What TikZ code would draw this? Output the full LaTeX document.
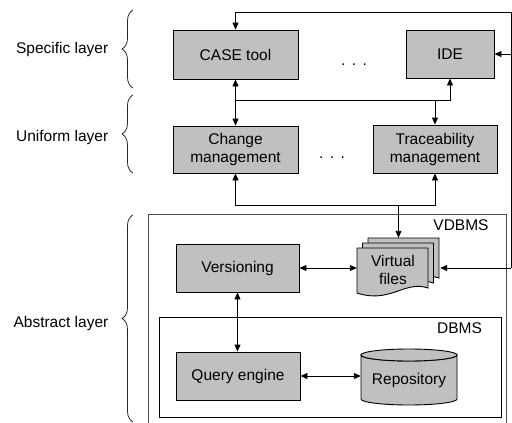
\documentclass[tikz,border=0pt]{standalone}
\usepackage{fontspec}
\setmainfont{Liberation Sans}
\usetikzlibrary{arrows.meta,decorations.pathreplacing}
\definecolor{boxgray}{RGB}{192,192,192}
\begin{document}
\begin{tikzpicture}[x=1pt,y=-1pt,
  font=\fontsize{15.5}{18}\selectfont,
  gbox/.style={draw=black,fill=boxgray,line width=0.9pt,inner sep=0pt,align=center},
  frame/.style={draw=black,line width=0.9pt,inner sep=0pt},
  conn/.style={line width=0.9pt,draw=black},
  arr/.style={conn,-{Triangle[length=7pt,width=6pt]}},
  dbl/.style={conn,{Triangle[length=7pt,width=6pt]}-{Triangle[length=7pt,width=6pt]}},
  brc/.style={draw=black!85,line width=0.8pt,decorate,decoration={brace,amplitude=11pt}},
  lbl/.style={anchor=east,inner sep=0pt}
]
\useasboundingbox (0,0) rectangle (512,423);

% layer labels and braces
\node[lbl] (lspec) at (108.5,49) {Specific layer};
\node[lbl] (lunif) at (108.5,137) {Uniform layer};
\node[lbl] (labst) at (108.5,323) {Abstract layer};
\draw[brc] (133,88) -- (133,10);
\draw[brc] (133,173) -- (133,95);
\draw[brc] (133,422) -- (133,215);

% specific layer
\node[gbox,minimum width=125pt,minimum height=49pt] (case) at (235.5,54.5) {CASE tool};
\node[gbox,minimum width=88pt,minimum height=48pt] (ide) at (450,54) {IDE};
\node[anchor=base,inner sep=0pt] (dots1) at (354,65.5) {.\kern6.5pt.\kern6.5pt.};

% uniform layer
\node[gbox,minimum width=125pt,minimum height=47pt] (chg) at (235.5,149.5) {Change\\management};
\node[gbox,minimum width=124pt,minimum height=48pt] (trc) at (435,149) {Traceability\\management};
\node[anchor=base,inner sep=0pt] (dots2) at (332,158.5) {.\kern6.5pt.\kern6.5pt.};

% abstract layer containers
\draw[draw=black!70,line width=1pt] (148,423) -- (148,214) -- (506,214) -- (506,423);
\node[inner sep=0pt] (vdbmslbl) at (461,225) {VDBMS};
\node[frame,minimum width=342pt,minimum height=100pt] (dbms) at (330,367) {};
\node[inner sep=0pt] (dbmslbl) at (459.5,328) {DBMS};

\node[gbox,minimum width=123pt,minimum height=48pt] (ver) at (237.5,268) {Versioning};
\node[gbox,minimum width=124pt,minimum height=48pt] (qry) at (238,376) {Query engine};

% virtual files (stack of documents)
\foreach \dx/\dy in {11/-10,5.5/-5,0/0}{
  \draw[line width=0.9pt,fill=boxgray,shift={(\dx,\dy)}]
    (357,248) -- (428,248) -- (428,288)
    .. controls (405,280) and (390,304) .. (357,293) -- cycle;
}
\node[inner sep=0pt,minimum width=83pt,minimum height=60pt] (vf) at (398.5,268) {};
\node[align=center,inner sep=0pt] (vflabel) at (393,269.5) {Virtual\\files};

% repository cylinder
\draw[line width=0.9pt,fill=boxgray] (361,355) -- (361,399)
  arc[start angle=180,end angle=0,x radius=48,y radius=6] -- (457,355)
  arc[start angle=0,end angle=180,x radius=48,y radius=6] -- cycle;
\draw[line width=0.9pt,fill=boxgray] (409,355) ellipse[x radius=48,y radius=6];
\node[inner sep=0pt,minimum width=96pt,minimum height=50pt] (repo) at (409,380) {Repository};

% connectors
\coordinate (tb) at (235.5,100);
\coordinate (tj) at (435,100);
\coordinate (bb) at (398.5,205);
\coordinate (rA) at (511,268);
\coordinate (rT) at (511,12.7);

\draw[dbl] (case.south) -- (chg.north);
\draw[arr] (tb) -| (ide.south);
\draw[arr] (tj) -- (trc.north);

\draw[arr] (bb) -| (chg.south);
\draw[arr] (bb) -| (trc.south);
\draw[arr] (bb) -- (vf.north);

\draw[arr] (rA) -- (vf.east);
\draw[arr] (rA) -- (rT) -| (case.north);
\draw[arr] (ide.east -| rT) -- (ide.east);

\draw[dbl] (ver.east) -- (vf.west);
\draw[dbl] (ver.south) -- (ver.south |- qry.north);
\draw[dbl] (qry.east) -- (qry.east -| repo.west);
\end{tikzpicture}
\end{document}
